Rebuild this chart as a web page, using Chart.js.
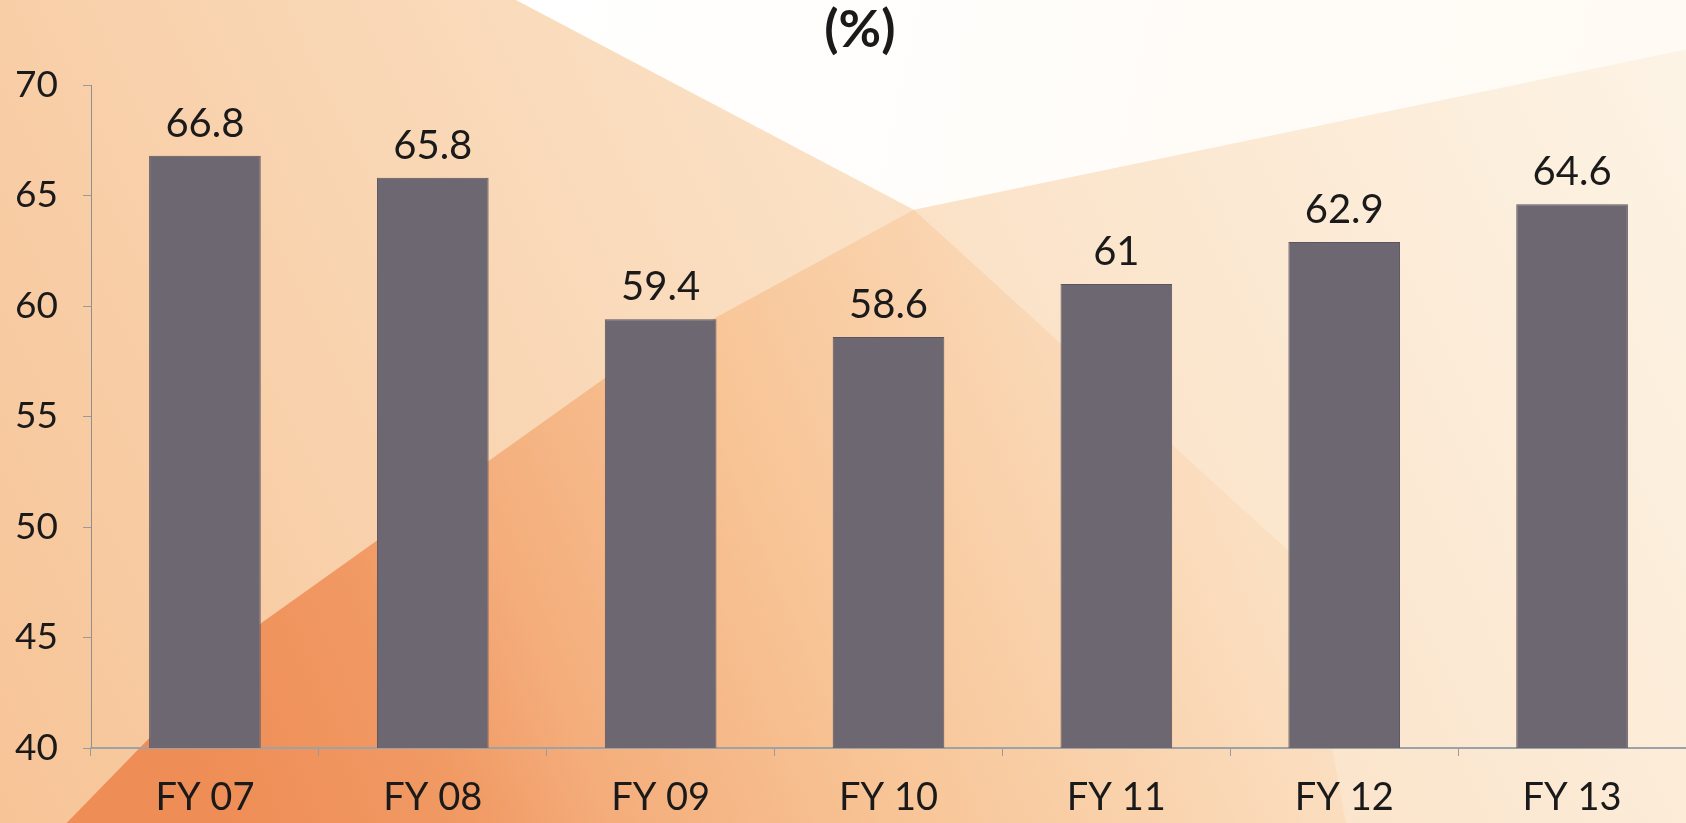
<!DOCTYPE html>
<html>
<head>
<meta charset="utf-8">
<script src="https://cdn.jsdelivr.net/npm/chart.js@4.4.1/dist/chart.umd.min.js"></script>
<style>
  html, body { margin: 0; padding: 0; background: #fdf1de; overflow: hidden; }
  #wrap { width: 1686px; height: 823px; position: relative; }
</style>
</head>
<body>
<div id="wrap"><canvas id="GraficoFY"></canvas></div>
<script>
const anos = ['FY 07', 'FY 08', 'FY 09', 'FY 10', 'FY 11', 'FY 12', 'FY 13'];
const valores = [66.8, 65.8, 59.4, 58.6, 61, 62.9, 64.6];
const eixoMin = 40;
const eixoMax = 70;
const eixoPasso = 5;
const titulo = "(%)";

const fonte = "Lato, 'Open Sans', sans-serif";

// fundo laranja com as faixas diagonais
const fundoPlugin = {
  id: "fundo",
  beforeDraw(chart) {
    const ctx = chart.ctx;
    const W = chart.width, H = chart.height;
    const p = (fx, fy) => [fx * W, fy * H];
    const poly = (pts, fill) => {
      ctx.beginPath();
      pts.forEach((pt, i) => i ? ctx.lineTo(pt[0], pt[1]) : ctx.moveTo(pt[0], pt[1]));
      ctx.closePath();
      ctx.fillStyle = fill;
      ctx.fill();
    };
    ctx.save();

    let g = ctx.createLinearGradient(0, H, W, 0);
    g.addColorStop(0, "#f7c497");
    g.addColorStop(0.45, "#fadcbd");
    g.addColorStop(1, "#fdf4e6");
    ctx.fillStyle = g;
    ctx.fillRect(0, 0, W, H);

    // triangulo claro do topo
    g = ctx.createLinearGradient(0.3 * W, 0, W, 0.3 * H);
    g.addColorStop(0, "#ffffff");
    g.addColorStop(1, "#fffaf3");
    poly([p(0.306, 0), p(0.542, 0.255), p(1, 0.06), p(1, 0)], g);

    // faixa laranja: escura embaixo a esquerda, clareando para a direita
    g = ctx.createLinearGradient(0.12 * W, 0.95 * H, 0.7 * W, 0.45 * H);
    g.addColorStop(0, "#ef8d56");
    g.addColorStop(0.22, "#f19a64");
    g.addColorStop(0.34, "#f4ad7b");
    g.addColorStop(0.6, "#f8c597");
    g.addColorStop(1, "#fbdfc1");
    poly([p(0.03, 1.02), p(0.155, 0.757), p(0.359, 0.459), p(0.542, 0.255), p(0.77, 0.68), p(0.80, 1.02)], g);

    ctx.restore();
  }
};

// titulo e rotulos de valor em cima das barras
const rotulosPlugin = {
  id: "rotulos",
  afterDatasetsDraw(chart) {
    const ctx = chart.ctx;
    const meta = chart.getDatasetMeta(0);
    ctx.save();
    ctx.fillStyle = "#1a1a1a";
    ctx.textAlign = "center";

    ctx.font = "bold 52px " + fonte;
    ctx.textBaseline = "middle";
    ctx.fillText(titulo, chart.width * 0.51, 30);

    ctx.font = "40px " + fonte;
    ctx.textBaseline = "alphabetic";
    meta.data.forEach((bar, i) => {
      ctx.fillText(String(valores[i]), bar.x, bar.y - 19);
    });
    ctx.restore();
  }
};

new Chart(document.getElementById("GraficoFY"), {
  type: "bar",
  data: {
    labels: anos,
    datasets: [
      {
        label: "%",
        data: valores,
        backgroundColor: "#6d6772",
        borderColor: "#5a5560",
        borderWidth: 1,
        categoryPercentage: 1,
        barPercentage: 0.49,
      }
    ],
  },
  options: {
    responsive: true,
    maintainAspectRatio: false,
    animation: false,
    layout: {
      padding: { left: 0, right: 0, top: 85, bottom: 0 },
    },
    scales: {
      y: {
        min: eixoMin,
        max: eixoMax,
        afterFit(scale) { scale.width = 91; },
        ticks: {
          stepSize: eixoPasso,
          color: "#1a1a1a",
          padding: 25,
          font: { family: fonte, size: 37 },
        },
        grid: {
          display: true,
          drawOnChartArea: false,
          tickLength: 8,
          color: "#9a9a9a",
        },
        border: { display: true, color: "#8f8f8f", width: 1 },
      },
      x: {
        afterFit(scale) { scale.height = 75; },
        ticks: {
          color: "#1a1a1a",
          padding: 19,
          font: { family: fonte, size: 38 },
        },
        grid: {
          display: true,
          drawOnChartArea: false,
          offset: true,
          tickLength: 8,
          color: "#9a9a9a",
        },
        border: { display: true, color: "#9aa3a8", width: 2 },
      },
    },
    plugins: {
      legend: { display: false },
      tooltip: { enabled: false },
      title: { display: false },
    },
  },
  plugins: [fundoPlugin, rotulosPlugin],
});
</script>
</body>
</html>
